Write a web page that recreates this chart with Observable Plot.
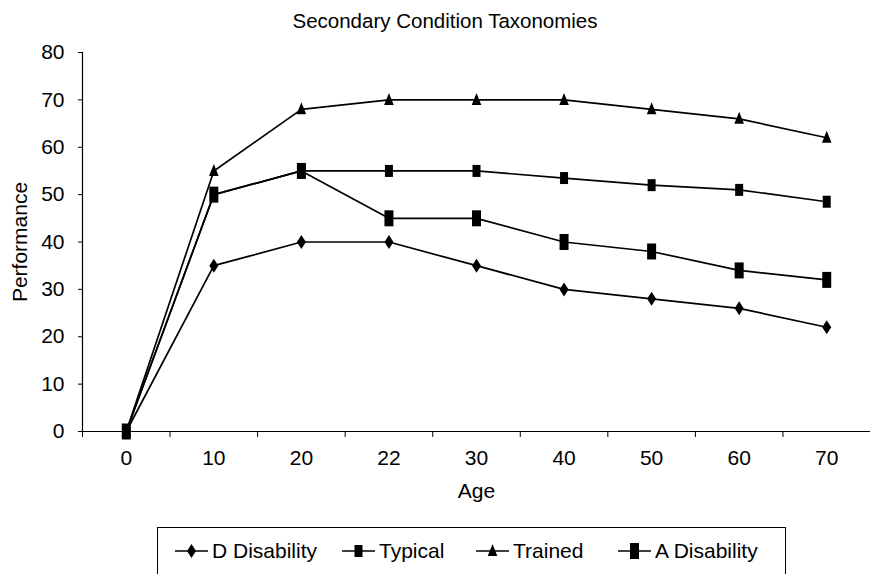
<!DOCTYPE html>
<html>
<head>
<meta charset="utf-8">
<script src="https://cdn.jsdelivr.net/npm/d3@7"></script>
<script src="https://cdn.jsdelivr.net/npm/@observablehq/plot@0.6"></script>
<style>
  html, body { margin: 0; padding: 0; background: #fff; }
  #chart { position: relative; width: 870px; height: 574px; overflow: hidden;
           font-family: "Liberation Sans", Arial, sans-serif; color: #000; }
  #title { position: absolute; left: 0; width: 890px; top: 8px; text-align: center;
           font-size: 20.5px; line-height: 26px; }
  #plot { position: absolute; left: 0; top: 40px; }
  #legend { position: absolute; left: 157px; top: 527px; width: 629px; height: 60px;
            border: 1px solid #000; box-sizing: border-box; }
  .item { position: absolute; top: 10px; display: flex; align-items: center;
          font-size: 21px; line-height: 26px; }
  .item svg { display: block; margin-right: 4px; }
</style>
</head>
<body>
<div id="chart">
  <div id="title">Secondary Condition Taxonomies</div>
  <div id="plot"></div>
  <div id="legend"></div>
</div>
<script>
// Age categories along the x axis
const ages = ["0", "10", "20", "22", "30", "40", "50", "60", "70"];

// Performance by age for each group
const dDisability = [0, 35, 40, 40, 35, 30, 28, 26, 22];
const typical     = [0, 50, 55, 55, 55, 53.5, 52, 51, 48.5];
const trained     = [0, 55, 68, 70, 70, 70, 68, 66, 62];
const aDisability = [0, 50, 55, 45, 45, 40, 38, 34, 32];

const seriesNames = ["D Disability", "Typical", "Trained", "A Disability"];
const yTicks = [0, 10, 20, 30, 40, 50, 60, 70, 80];

// Marker shapes (fixed pixel sizes)
const diamond = {draw(c) { c.moveTo(0, -7); c.lineTo(4.5, 0); c.lineTo(0, 7); c.lineTo(-4.5, 0); c.closePath(); }};
const square  = {draw(c) { c.rect(-4, -6, 8, 12); }};
const triangle = {draw(c) { c.moveTo(0, -7); c.lineTo(4.8, 5); c.lineTo(-4.8, 5); c.closePath(); }};
const tallRect = {draw(c) { c.rect(-4.5, -8, 9, 16); }};
const symbols = [diamond, square, triangle, tallRect];

const seriesValues = [dDisability, typical, trained, aDisability];
const rows = seriesValues.flatMap((vals, s) =>
  vals.map((v, i) => ({series: seriesNames[s], s, i, age: ages[i], value: v})));

const boundaries = d3.range(ages.length + 1);
const centers = ages.map((_, i) => i + 0.5);

const marks = [
  Plot.ruleY([0], {stroke: "#000", strokeWidth: 1.2}),
  Plot.ruleX([0], {stroke: "#000", strokeWidth: 1.2}),
  Plot.axisY({ticks: yTicks, tickSize: 4, tickPadding: 14, fontSize: 21,
              label: "Performance", labelAnchor: "center", labelArrow: "none", labelOffset: 70}),
  Plot.axisX({ticks: centers, tickSize: 0, tickPadding: 19, fontSize: 21,
              tickFormat: (d) => ages[Math.round(d - 0.5)],
              label: "Age", labelAnchor: "center", labelArrow: "none", labelOffset: 66}),
  Plot.axisX({ticks: boundaries, tickSize: 6, tickFormat: () => "", label: null})
];

seriesNames.forEach((name, s) => {
  const data = rows.filter((d) => d.s === s);
  marks.push(Plot.line(data, {x: (d) => d.i + 0.5, y: "value", stroke: "#000", strokeWidth: 1.7}));
  marks.push(Plot.dot(data, {x: (d) => d.i + 0.5, y: "value", symbol: symbols[s], fill: "#000", stroke: "none"}));
});

const plot = Plot.plot({
  width: 870,
  height: 470,
  marginLeft: 82,
  marginRight: 0,
  marginTop: 12,
  marginBottom: 79,
  style: {fontFamily: "'Liberation Sans', Arial, sans-serif", fontSize: "21px", color: "#000", background: "#fff"},
  x: {type: "linear", domain: [0, ages.length]},
  y: {domain: [0, 80]},
  marks
});
document.getElementById("plot").appendChild(plot);

// Legend: line swatch with the series marker, then the name
const legendX = [17, 184, 318, 460];
const legend = d3.select("#legend");
seriesNames.forEach((name, s) => {
  const item = legend.append("div").attr("class", "item").style("left", legendX[s] + "px");
  const sw = item.append("svg").attr("width", 33).attr("height", 20);
  sw.append("line").attr("x1", 0).attr("x2", 33).attr("y1", 10).attr("y2", 10)
    .attr("stroke", "#000").attr("stroke-width", 1.7);
  sw.append("path").attr("transform", "translate(16.5,10)")
    .attr("d", d3.symbol(symbols[s])()).attr("fill", "#000");
  item.append("span").text(name);
});
</script>
</body>
</html>
